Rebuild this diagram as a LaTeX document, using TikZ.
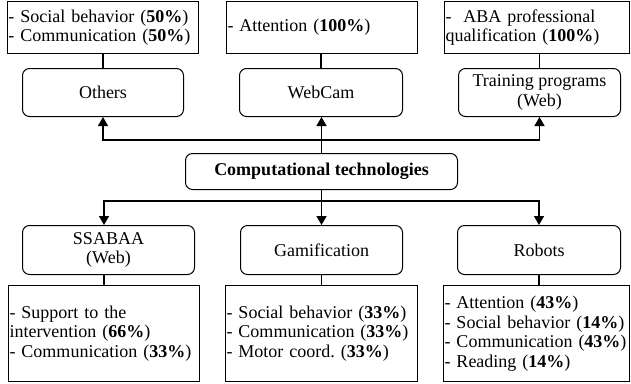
\documentclass[tikz,border=0pt]{standalone}
\usepackage{fontspec}
\setmainfont{Liberation Serif}
\usetikzlibrary{arrows.meta}
\frenchspacing
\begin{document}
\begin{tikzpicture}[x=1pt,y=-1pt,
  font=\fontsize{18}{19.5}\selectfont,
  databox/.style={draw, line width=1pt, inner xsep=1pt, inner ysep=0pt, align=left, anchor=north west},
  tech/.style={draw, line width=1pt, rounded corners=7pt, inner sep=0pt, align=center, anchor=north west},
  conn/.style={line width=1.4pt},
  arr/.style={conn, -{Triangle[length=9pt,width=10pt]}}]
\useasboundingbox (0,0) rectangle (631,383);
% top data boxes
\node[databox, minimum width=191pt, minimum height=52pt, text width=189pt] (tl) at (7,1)
  {- Social behavior (\textbf{50\%})\\- Communication (\textbf{50\%})};
\node[databox, minimum width=191pt, minimum height=52pt, text width=189pt] (tm) at (226,1)
  {- Attention (\textbf{100\%})};
\node[databox, minimum width=185pt, minimum height=52pt, text width=183pt] (tr) at (444,1)
  {-\ \ ABA professional\\qualification (\textbf{100\%})};
% top technology nodes
\node[tech, minimum width=161pt, minimum height=48pt] (others) at (22,68) {Others};
\node[tech, minimum width=163pt, minimum height=48pt] (webcam) at (239,68) {WebCam};
\node[tech, minimum width=162pt, minimum height=48pt] (training) at (458,68) {Training programs\\(Web)};
% center
\node[tech, minimum width=272pt, minimum height=36pt] (comp) at (185,153) {\textbf{Computational technologies}};
% bottom technology nodes
\node[tech, minimum width=172pt, minimum height=49pt] (ssabaa) at (22,225) {SSABAA\\(Web)};
\node[tech, minimum width=162pt, minimum height=49pt] (gami) at (240,225) {Gamification};
\node[tech, minimum width=163pt, minimum height=49pt] (robots) at (457,225) {Robots};
% bottom data boxes
\node[databox, minimum width=191pt, minimum height=96pt, text width=189pt] (bl) at (8,285)
  {- Support to the\\intervention (\textbf{66\%})\\- Communication (\textbf{33\%})};
\node[databox, minimum width=192pt, minimum height=96pt, text width=190pt] (bm) at (225,285)
  {- Social behavior (\textbf{33\%})\\- Communication (\textbf{33\%})\\- Motor coord. (\textbf{33\%})};
\node[databox, minimum width=186pt, minimum height=96pt, text width=184pt] (br) at (443,285)
  {- Attention (\textbf{43\%})\\- Social behavior (\textbf{14\%})\\- Communication (\textbf{43\%})\\- Reading (\textbf{14\%})};
% plain links
\draw[conn] (others.north) -- (others.north |- tl.south);
\draw[conn] (webcam.north) -- (webcam.north |- tm.south);
\draw[conn] (training.north) -- (training.north |- tr.south);
\draw[conn] (bl.north) -- (bl.north |- ssabaa.south);
\draw[conn] (gami.south) -- (gami.south |- bm.north);
\draw[conn] (robots.south) -- (robots.south |- br.north);
% arrows up
\coordinate (topbar) at (0,140);
\draw[arr] (comp.north) -- (comp.north |- webcam.south);
\draw[arr] (topbar -| comp.north) -| (others.south);
\draw[arr] (topbar -| comp.north) -| (training.south);
% arrows down
\coordinate (botbar) at (0,201);
\draw[arr] (comp.south) -- (comp.south |- gami.north);
\draw[arr] (botbar -| comp.south) -| (bl.north |- ssabaa.north);
\draw[arr] (botbar -| comp.south) -| (robots.north);
\end{tikzpicture}
\end{document}
